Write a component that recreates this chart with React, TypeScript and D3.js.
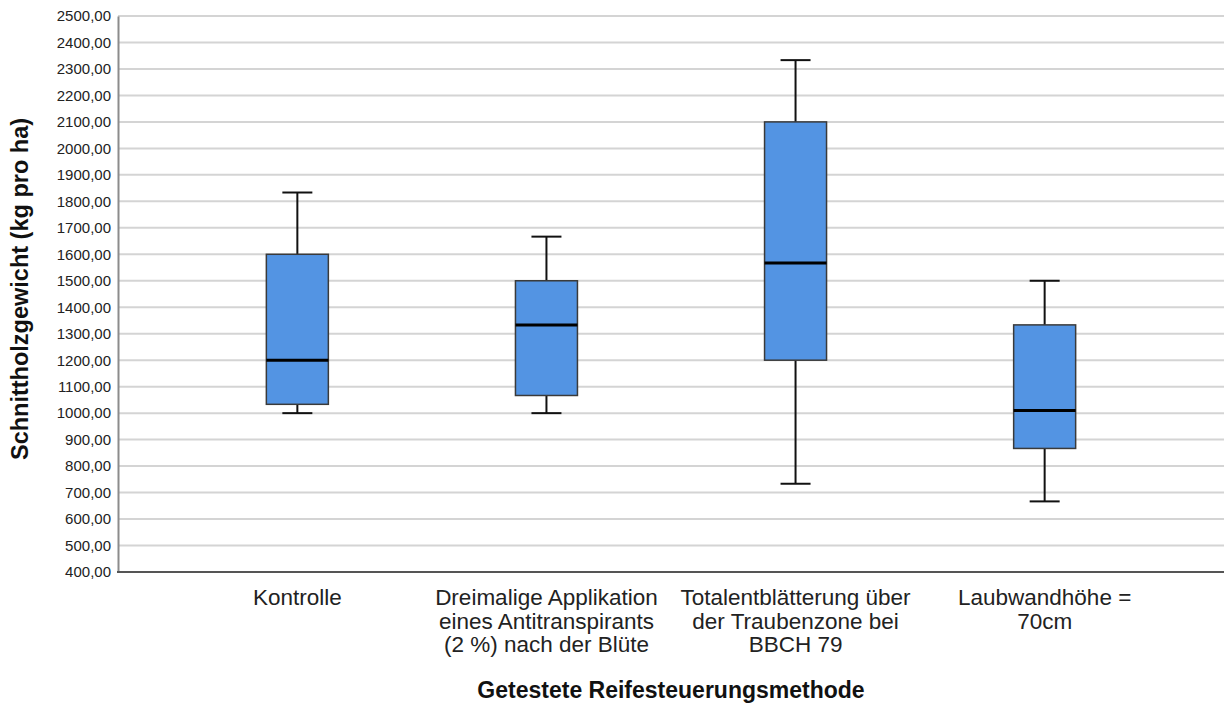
import React, { useEffect, useRef } from "react";
import * as d3 from "d3";

// Kategorien (mehrzeilige Beschriftung)
const categories = [
  ["Kontrolle"],
  ["Dreimalige Applikation", "eines Antitranspirants", "(2 %) nach der Blüte"],
  ["Totalentblätterung über", "der Traubenzone bei", "BBCH 79"],
  ["Laubwandhöhe =", "70cm"],
];

// Boxplot-Kennwerte
const minValues = [1000, 1000, 733.33, 666.67];
const q1Values = [1033.33, 1066.67, 1200, 866.67];
const medianValues = [1200, 1333.33, 1566.67, 1010];
const q3Values = [1600, 1500, 2100, 1333.33];
const maxValues = [1833.33, 1666.67, 2333.33, 1500];

const yTicks = d3.range(400, 2501, 100);

const App = () => {
  const svgRef = useRef<SVGSVGElement>(null);

  useEffect(() => {
    const svg = d3.select(svgRef.current);
    svg.selectAll("*").remove();

    const width = 1226;
    const height = 704;
    const margin = { top: 16, right: 2, bottom: 132, left: 118 };
    const font = "Arial, 'Liberation Sans', sans-serif";

    svg.attr("width", width).attr("height", height);

    const x = d3
      .scalePoint<number>()
      .domain(categories.map((_, i) => i))
      .range([margin.left, width - margin.right])
      .padding(0.72);

    const y = d3
      .scaleLinear()
      .domain([400, 2500])
      .range([height - margin.bottom, margin.top]);

    // Gitterlinien
    svg
      .append("g")
      .selectAll("line")
      .data(yTicks.slice(1))
      .enter()
      .append("line")
      .attr("x1", margin.left)
      .attr("x2", width - margin.right)
      .attr("y1", (d) => y(d))
      .attr("y2", (d) => y(d))
      .attr("stroke", "#d4d4d4")
      .attr("stroke-width", 2);

    // Y-Achse
    const yAxis = svg
      .append("g")
      .attr("transform", `translate(${margin.left},0)`)
      .call(
        d3
          .axisLeft(y)
          .tickValues(yTicks)
          .tickSize(0)
          .tickPadding(7)
          .tickFormat((d) => d3.format(".2f")(d as number).replace(".", ","))
      );
    yAxis.select(".domain").attr("stroke", "#8c8c8c").attr("stroke-width", 2);
    yAxis
      .selectAll("text")
      .attr("font-family", font)
      .attr("font-size", 15)
      .attr("fill", "#222");

    // X-Achsenlinie
    svg
      .append("line")
      .attr("x1", margin.left - 1)
      .attr("x2", width - margin.right)
      .attr("y1", y(400))
      .attr("y2", y(400))
      .attr("stroke", "#555")
      .attr("stroke-width", 2);

    const boxW = 62;
    const capW = 30;

    const boxes = svg
      .append("g")
      .selectAll("g")
      .data(categories.map((_, i) => i))
      .enter()
      .append("g");

    // Whisker
    boxes
      .append("line")
      .attr("x1", (i) => x(i)!)
      .attr("x2", (i) => x(i)!)
      .attr("y1", (i) => y(maxValues[i]))
      .attr("y2", (i) => y(minValues[i]))
      .attr("stroke", "#111")
      .attr("stroke-width", 2);

    [maxValues, minValues].forEach((vals) => {
      boxes
        .append("line")
        .attr("x1", (i) => x(i)! - capW / 2)
        .attr("x2", (i) => x(i)! + capW / 2)
        .attr("y1", (i) => y(vals[i]))
        .attr("y2", (i) => y(vals[i]))
        .attr("stroke", "#111")
        .attr("stroke-width", 2);
    });

    // Box
    boxes
      .append("rect")
      .attr("x", (i) => x(i)! - boxW / 2)
      .attr("width", boxW)
      .attr("y", (i) => y(q3Values[i]))
      .attr("height", (i) => y(q1Values[i]) - y(q3Values[i]))
      .attr("fill", "#5394e3")
      .attr("stroke", "#3a3a3a")
      .attr("stroke-width", 1.5);

    // Median
    boxes
      .append("line")
      .attr("x1", (i) => x(i)! - boxW / 2)
      .attr("x2", (i) => x(i)! + boxW / 2)
      .attr("y1", (i) => y(medianValues[i]))
      .attr("y2", (i) => y(medianValues[i]))
      .attr("stroke", "#000")
      .attr("stroke-width", 3);

    // Kategorienbeschriftung
    boxes
      .append("text")
      .attr("text-anchor", "middle")
      .attr("font-family", font)
      .attr("font-size", 22.5)
      .attr("fill", "#222")
      .selectAll("tspan")
      .data((i) => categories[i].map((t) => ({ t, i })))
      .enter()
      .append("tspan")
      .attr("x", (d) => x(d.i)!)
      .attr("y", (_, k) => 605 + k * 23.5)
      .text((d) => d.t);

    // Achsentitel
    svg
      .append("text")
      .attr("x", (margin.left + width - margin.right) / 2)
      .attr("y", 698)
      .attr("text-anchor", "middle")
      .attr("font-family", font)
      .attr("font-size", 23)
      .attr("font-weight", "bold")
      .attr("fill", "#111")
      .text("Getestete Reifesteuerungsmethode");

    svg
      .append("text")
      .attr("transform", `translate(28,289) rotate(-90)`)
      .attr("text-anchor", "middle")
      .attr("font-family", font)
      .attr("font-size", 23.5)
      .attr("font-weight", "bold")
      .attr("fill", "#111")
      .text("Schnittholzgewicht (kg pro ha)");
  }, []);

  return (
    <div style={{ position: "absolute", left: 0, top: 0 }}>
      <svg ref={svgRef}></svg>
    </div>
  );
};

export default App;
